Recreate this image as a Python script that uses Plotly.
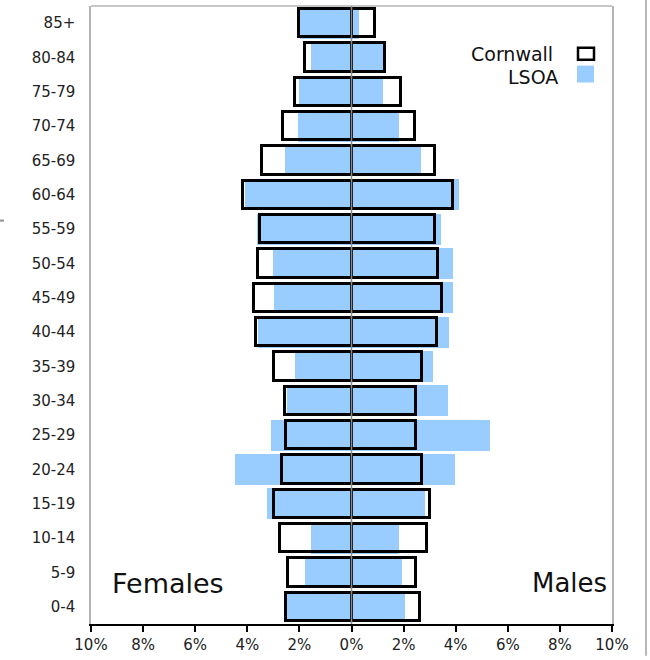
import plotly.graph_objects as go

age_groups = ["0-4", "5-9", "10-14", "15-19", "20-24", "25-29", "30-34", "35-39",
              "40-44", "45-49", "50-54", "55-59", "60-64", "65-69", "70-74",
              "75-79", "80-84", "85+"]

# percentages of total population (bottom row first)
cornwall_female = [2.51, 2.42, 2.76, 2.97, 2.65, 2.51, 2.55, 2.99,
                   3.66, 3.75, 3.60, 3.50, 4.15, 3.43, 2.62, 2.17, 1.77, 2.03]
cornwall_male = [2.64, 2.48, 2.89, 3.02, 2.71, 2.46, 2.48, 2.70,
                 3.28, 3.48, 3.31, 3.20, 3.88, 3.19, 2.42, 1.89, 1.30, 0.92]
lsoa_female = [2.47, 1.80, 1.55, 3.24, 4.48, 3.10, 2.48, 2.16,
               3.60, 2.96, 3.02, 3.63, 4.10, 2.55, 2.07, 2.01, 1.54, 1.96]
lsoa_male = [2.06, 1.93, 1.84, 2.84, 3.98, 5.31, 3.69, 3.14,
             3.75, 3.90, 3.90, 3.42, 4.13, 2.67, 1.83, 1.22, 1.22, 0.27]

tick_values = [-10, -8, -6, -4, -2, 0, 2, 4, 6, 8, 10]
tick_labels = ["10%", "8%", "6%", "4%", "2%", "0%", "2%", "4%", "6%", "8%", "10%"]

BLUE = "#99CCFF"
FONT = "DejaVu Sans"
W, H = 650, 660
L, R, T, B = 91, 38, 6, 32
PW, PH = W - L - R, H - T - B


def px(x):
    return (x - L) / PW


def py(y):
    return (H - B - y) / PH


fig = go.Figure()

fig.add_trace(go.Bar(y=age_groups, x=[-v for v in lsoa_female], orientation="h",
                     width=0.9, marker=dict(color=BLUE, line=dict(width=0)),
                     name="LSOA", showlegend=False))
fig.add_trace(go.Bar(y=age_groups, x=lsoa_male, orientation="h",
                     width=0.9, marker=dict(color=BLUE, line=dict(width=0)),
                     name="LSOA", showlegend=False))
fig.add_trace(go.Bar(y=age_groups, x=[-v for v in cornwall_female], orientation="h",
                     width=0.83, marker=dict(color="rgba(0,0,0,0)",
                                             line=dict(color="black", width=3)),
                     name="Cornwall", showlegend=False))
fig.add_trace(go.Bar(y=age_groups, x=cornwall_male, orientation="h",
                     width=0.83, marker=dict(color="rgba(0,0,0,0)",
                                             line=dict(color="black", width=3)),
                     name="Cornwall", showlegend=False))

fig.update_layout(
    width=W, height=H,
    margin=dict(l=L, r=R, t=T, b=B, pad=0),
    barmode="overlay",
    bargap=0,
    plot_bgcolor="white", paper_bgcolor="white",
    font=dict(family=FONT, size=15, color="#222222"),
    xaxis=dict(range=[-10, 10], tickvals=tick_values, ticktext=tick_labels,
               showgrid=False, zeroline=False, showline=True, linecolor="black",
               linewidth=2, ticks="outside", ticklen=6, tickcolor="black",
               tickwidth=1.5, tickfont=dict(size=15, family=FONT)),
    yaxis=dict(categoryorder="array", categoryarray=age_groups,
               range=[-0.5, 17.5], showgrid=False, zeroline=False,
               showline=True, linecolor="#b4b4b4", linewidth=1.5, mirror=True,
               ticks="", ticklabelstandoff=11,
               tickfont=dict(size=15, family=FONT)),
)

shapes = [
    # top border of plot area
    dict(type="line", xref="paper", yref="paper", x0=0, x1=1, y0=1, y1=1,
         line=dict(color="#b4b4b4", width=1.5)),
    # centre line
    dict(type="line", xref="x", yref="paper", x0=0, x1=0, y0=0, y1=1,
         line=dict(color="#8a8a8a", width=1.5), layer="above"),
    # outer frame on the right
    dict(type="line", xref="paper", yref="paper", x0=px(646), x1=px(646),
         y0=py(0), y1=py(660), line=dict(color="#a0a0a0", width=1.5)),
    # small mark at left edge
    dict(type="line", xref="paper", yref="paper", x0=px(0), x1=px(4),
         y0=py(222), y1=py(222), line=dict(color="#909090", width=2)),
    # legend symbols
    dict(type="rect", xref="paper", yref="paper", x0=px(578), x1=px(594),
         y0=py(60), y1=py(48), line=dict(color="black", width=2.5),
         fillcolor="white"),
    dict(type="rect", xref="paper", yref="paper", x0=px(577), x1=px(594),
         y0=py(83), y1=py(66), line=dict(width=0), fillcolor=BLUE),
]
fig.update_layout(shapes=shapes)

annotations = [
    dict(text="Cornwall", xref="paper", yref="paper", x=px(554), y=py(54),
         xanchor="right", yanchor="middle", showarrow=False, borderpad=0,
         font=dict(size=19, family=FONT, color="#111111")),
    dict(text="LSOA", xref="paper", yref="paper", x=px(559), y=py(77),
         xanchor="right", yanchor="middle", showarrow=False, borderpad=0,
         font=dict(size=19, family=FONT, color="#111111")),
    dict(text="Females", xref="paper", yref="paper", x=px(110), y=py(587),
         xanchor="left", yanchor="middle", showarrow=False,
         font=dict(size=27, family=FONT, color="#111111")),
    dict(text="Males", xref="paper", yref="paper", x=px(609), y=py(587),
         xanchor="right", yanchor="middle", showarrow=False,
         font=dict(size=26, family=FONT, color="#111111")),
]
fig.update_layout(annotations=annotations)

fig.write_html("out.html",
               config={"displayModeBar": False},
               post_script="document.body.style.margin='0';document.body.style.padding='0';")
